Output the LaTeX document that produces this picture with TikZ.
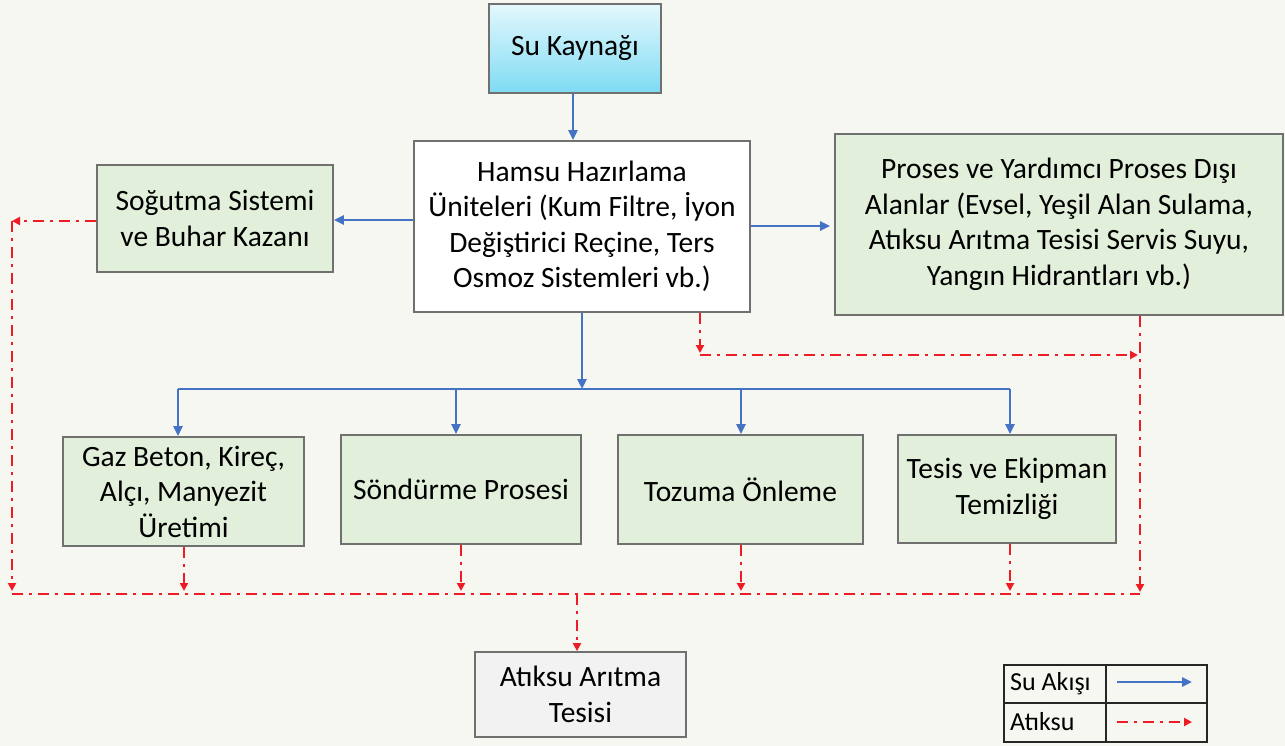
\documentclass[tikz,border=0pt]{standalone}
\usepackage{fontspec}
\setmainfont{Carlito}
\usetikzlibrary{arrows.meta,calc}
\definecolor{bg}{HTML}{F7F7F2}
\definecolor{gfill}{HTML}{E2EFDA}
\definecolor{bord}{HTML}{707070}
\definecolor{flowc}{HTML}{4472C4}
\definecolor{wastec}{HTML}{EE1C24}
\definecolor{cyantop}{HTML}{E4F8FD}
\definecolor{cyanbot}{HTML}{7EDBF3}
\definecolor{grayfill}{HTML}{F2F2F2}
\tikzset{
  basebox/.style={draw=bord, line width=1.8pt, inner sep=0pt, align=center,
    font=\fontsize{29.5}{35.5}\selectfont},
  gbox/.style={basebox, fill=gfill},
  flow/.style={draw=flowc, line width=2.8pt, -{Triangle[length=10pt,width=9pt]}},
  flowline/.style={draw=flowc, line width=2.8pt},
  waste/.style={draw=wastec, line width=2.4pt, dash pattern=on 11pt off 6pt on 3pt off 6pt,
    -{Triangle[length=8pt,width=8pt]}},
  wasteline/.style={draw=wastec, line width=2.4pt, dash pattern=on 11pt off 6pt on 3pt off 6pt},
  legtext/.style={anchor=west, inner sep=0pt, font=\fontsize{26}{30}\selectfont}
}
\begin{document}
\begin{tikzpicture}[x=1pt,y=-1pt]
\fill[bg] (0,0) rectangle (1285,746);
\useasboundingbox (0,0) rectangle (1285,746);

% nodes
\node[basebox, top color=cyantop, bottom color=cyanbot, minimum width=172pt, minimum height=89pt] (su) at (575,48.5) {Su Kaynağı};
\node[basebox, fill=white, minimum width=336pt, minimum height=171pt] (ham) at (582,226.5)
  {Hamsu Hazırlama\\Üniteleri (Kum Filtre, İyon\\Değiştirici Reçine, Ters\\Osmoz Sistemleri vb.)};
\node[gbox, minimum width=236pt, minimum height=107pt] (sog) at (215,218.5) {Soğutma Sistemi\\ve Buhar Kazanı};
\node[gbox, minimum width=448pt, minimum height=181pt] (pro) at (1059,224.5)
  {Proses ve Yardımcı Proses Dışı\\Alanlar (Evsel, Yeşil Alan Sulama,\\Atıksu Arıtma Tesisi Servis Suyu,\\Yangın Hidrantları vb.)};
\node[gbox, minimum width=241pt, minimum height=109pt] (gaz) at (183.5,491.5) {Gaz Beton, Kireç,\\Alçı, Manyezit\\Üretimi};
\node[gbox, minimum width=240pt, minimum height=109pt] (son) at (461,489.5) {Söndürme Prosesi};
\node[gbox, minimum width=245pt, minimum height=109pt] (toz) at (740.5,489.5) {Tozuma Önleme};
\node[gbox, minimum width=218pt, minimum height=108pt] (tes) at (1007,489) {Tesis ve Ekipman\\Temizliği};
\node[basebox, fill=grayfill, minimum width=211pt, minimum height=85pt] (atk) at (580.5,694.5) {Atıksu Arıtma\\Tesisi};

% water flow
\draw[flow] (su.south -| 573,0) -- (ham.north -| 573,0);
\draw[flow] (ham.west |- 0,220) -- (sog.east |- 0,220);
\draw[flow, shorten >=4pt] (ham.east |- 0,226) -- (pro.west |- 0,226);
\coordinate (busL) at (178,389);
\coordinate (busR) at (1010,389);
\draw[flow] (ham.south) -- (ham.south |- busL);
\draw[flowline] (busL) -- (busR);
\draw[flow] (busL) -- (gaz.north -| busL);
\draw[flow] (456,389) -- (son.north -| 456,0);
\draw[flow] (741,389) -- (toz.north -| 741,0);
\draw[flow] (busR) -- (tes.north -| busR);

% waste water
\coordinate (wTL) at (12,221);
\coordinate (wBL) at (12,594);
\coordinate (wBR) at (1140,594);
\coordinate (wMid) at (700,355);
\coordinate (wMR) at (1138,355);
\draw[waste] (sog.west |- wTL) -- (wTL);
\draw[waste] (wTL) -- ($(wBL)+(0,-3)$);
\draw[waste] (ham.south -| wMid) -- ($(wMid)+(0,-2)$);
\draw[waste] (wMid) -- (wMR);
\draw[waste] (pro.south -| wBR) -- ($(wBR)+(0,-2)$);
\draw[wasteline] (wBL) -- (wBR);
\draw[waste] (gaz.south -| 184,0) -- (184,591);
\draw[waste] (son.south -| 461,0) -- (461,591);
\draw[waste] (toz.south -| 741,0) -- (741,591);
\draw[waste] (tes.south -| 1010,0) -- (1010,591);
\draw[waste] (577,594) -- (atk.north -| 577,0);

% legend
\draw[black!85, line width=1.8pt] (1004,665) rectangle (1207,742);
\draw[black!85, line width=1.8pt] (1106,665) -- (1106,742);
\draw[black!85, line width=1.8pt] (1004,703) -- (1207,703);
\node[legtext] (lsu) at (1010,684) {Su Akışı};
\node[legtext] (lat) at (1010,722) {Atıksu};
\coordinate (la1) at (1117,682);
\coordinate (la2) at (1192,682);
\coordinate (lb1) at (1117,722);
\coordinate (lb2) at (1192,722);
\draw[flow] (la1) -- (la2);
\draw[waste] (lb1) -- (lb2);
\end{tikzpicture}
\end{document}
